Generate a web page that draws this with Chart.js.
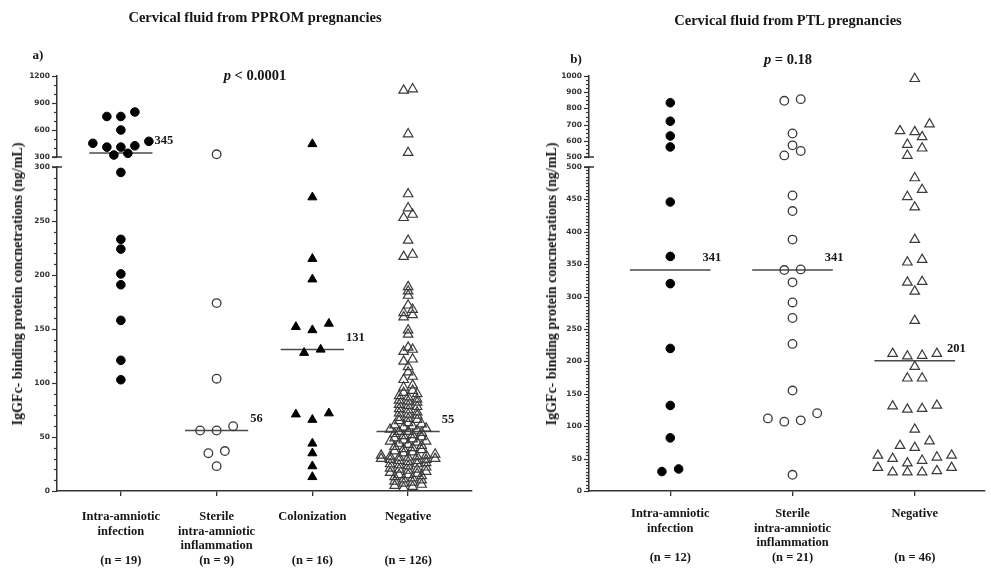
<!DOCTYPE html>
<html><head><meta charset="utf-8">
<script src="https://cdn.jsdelivr.net/npm/chart.js@4.4.1/dist/chart.umd.min.js"></script>
<style>
html,body{margin:0;padding:0;background:#fff;}
#wrap{position:relative;width:991px;height:572px;overflow:hidden;background:#fff;}
#wrap canvas{position:absolute;left:0;top:0;}
.txt{position:absolute;font-family:'Liberation Serif','Times New Roman',serif;font-weight:bold;color:#161616;white-space:nowrap;transform:translate(-50%,-50%);line-height:1;}
.ytitle{transform:translate(-50%,-50%) rotate(-90deg);}
</style></head><body>
<div id="wrap">
<canvas id="cAt" width="991" height="572"></canvas>
<canvas id="cAb" width="991" height="572"></canvas>
<canvas id="cBt" width="991" height="572"></canvas>
<canvas id="cBb" width="991" height="572"></canvas>
</div>
<script>
// ================= DATA =================
const titleA = 'Cervical fluid from PPROM pregnancies';
const titleB = 'Cervical fluid from PTL pregnancies';
const yTitle = 'IgGFc- binding protein concnetrations (ng/mL)';
const pValueA = '< 0.0001';
const pValueB = '= 0.18';

const categoriesA = [['Intra-amniotic', 'infection'], ['Sterile', 'intra-amniotic', 'inflammation'], ['Colonization'], ['Negative']];
const categoriesB = [['Intra-amniotic', 'infection'], ['Sterile', 'intra-amniotic', 'inflammation'], ['Negative']];

const mediansA = [345, 56, 131, 55];
const mediansB = [341, 341, 201];

const ticksA_top = [300, 600, 900, 1200];
const ticksA_bottom = [0, 50, 100, 150, 200, 250, 300];
const ticksB_top = [500, 600, 700, 800, 900, 1000];
const ticksB_bottom = [0, 50, 100, 150, 200, 250, 300, 350, 400, 450, 500];

// Panel a (PPROM)
const a_infection = [800, 750, 750, 600, 474, 452, 425, 410, 410, 341, 322, 295, 233, 224, 201, 191, 158, 121, 103];
const a_sterile = [330, 174, 104, 60, 56, 56, 37, 35, 23];
const a_colonization = [444, 272, 215, 196, 155, 152, 149, 131, 128, 72, 71, 66, 44, 35, 23, 13];
const a_negative = [1055, 1040, 555, 348, 275, 262, 256, 253, 232, 219, 217, 189, 185, 181, 172, 168, 165, 163, 161, 149,
  145, 133, 131, 129, 122, 120, 115, 110, 106, 103, 98, 96, 93, 91, 90, 88, 87, 85, 84, 83, 82, 80, 79, 78, 76, 75, 73,
  72, 71, 70, 68, 67, 66, 65, 63, 62, 61, 60, 59, 58, 57, 56, 55, 55, 54, 53, 52, 51, 50, 49, 48, 47, 46, 46, 45, 44, 43,
  42, 41, 40, 39, 38, 37, 36, 35, 34, 33, 33, 32, 32, 31, 31, 30, 30, 29, 29, 28, 28, 27, 26, 25, 25, 24, 23, 22, 21, 20,
  20, 19, 18, 17, 16, 15, 15, 14, 13, 12, 11, 10, 9, 8, 7, 6, 5, 4, 3];

// Panel b (PTL)
const b_infection = [835, 721, 630, 562, 446, 362, 320, 220, 132, 82, 34, 30];
const b_sterile = [857, 847, 645, 572, 537, 510, 456, 432, 388, 342, 341, 322, 291, 267, 227, 155, 120, 112, 109, 107, 25];
const b_negative = [983, 703, 661, 655, 624, 577, 554, 509, 483, 465, 454, 438, 388, 357, 353, 323, 322, 308, 263, 212,
  212, 209, 208, 192, 174, 174, 132, 131, 127, 126, 95, 77, 70, 67, 55, 55, 52, 50, 47, 43, 36, 36, 31, 29, 29, 29];

// ================= LAYOUT / STYLE =================
const W = 991, H = 572, YW = 40, XH = 78;
const LAYOUT = {
  A: { L: 57, R: 472, xMin: -0.667, xMax: 3.667, split: 300, medDx: 2, labelPad: 14,
       top: { T: 76, B: 157, min: 300, max: 1200, minor: 100 },
       bottom: { T: 167, B: 491, min: 0, max: 300, minor: 10 },
       swarm: [{gap: 5.8, span: 8.5, step: 14}, {gap: 5.8, span: 8.5, step: 16.5}, {gap: 5.8, span: 8.5, step: 16.5}, {gap: 4, span: 4, step: 9}],
       marks: ['fillCircle', 'openCircle', 'fillTri', 'openTri'] },
  B: { L: 589, R: 991, xMin: -0.665, xMax: 2.569, split: 500, medDx: -8, labelPad: 11,
       top: { T: 76, B: 157, min: 500, max: 1000, minor: 25 },
       bottom: { T: 167, B: 491, min: 0, max: 500, minor: 5 },
       swarm: [{gap: 9, span: 8.55, step: 17}, {gap: 9, span: 8.55, step: 16.7}, {gap: 9, span: 8.55, step: 15}],
       marks: ['fillCircle', 'openCircle', 'openTri'] }
};
const MARKS = {
  fillCircle: { style: 'circle', r: 4.3, fill: '#000', stroke: '#000', bw: 1 },
  openCircle: { style: 'circle', r: 4.3, fill: 'rgba(255,255,255,0)', stroke: '#3a3a3a', bw: 1.3 },
  fillTri: { style: 'triangle', r: 5.2, fill: '#000', stroke: '#000', bw: 1 },
  openTri: { style: 'triangle', r: 5.5, fill: 'rgba(255,255,255,0)', stroke: '#3a3a3a', bw: 1.2 }
};
const MED_HALF = 0.33;
const SERIF = "'Liberation Serif', 'Times New Roman', serif";

const PANELS = {
  A: { cats: categoriesA, groups: [a_infection, a_sterile, a_colonization, a_negative], medians: mediansA, ticks: { top: ticksA_top, bottom: ticksA_bottom } },
  B: { cats: categoriesB, groups: [b_infection, b_sterile, b_negative], medians: mediansB, ticks: { top: ticksB_top, bottom: ticksB_bottom } }
};

// Prism-like row layout of points (x jitter computed from values)
function swarmPoints(values, ci, P, cfg) {
  const pxPerX = (P.R - P.L) / (P.xMax - P.xMin);
  const segOf = v => v > P.split ? P.top : P.bottom;
  const py = v => { const s = segOf(v); return s.B - (v - s.min) * (s.B - s.T) / (s.max - s.min); };
  const order = values.map((v, i) => i).sort((a, b) => values[a] - values[b]);
  const rows = []; let row = null;
  order.forEach(i => {
    const v = values[i], y = py(v), s = segOf(v);
    if (row && row.seg === s && (row.last - y) <= cfg.gap && (row.first - y) <= cfg.span) { row.items.push(i); row.last = y; }
    else { row = { seg: s, first: y, last: y, items: [i] }; rows.push(row); }
  });
  const pts = [];
  rows.forEach(r => {
    const n = r.items.length;
    const slots = [];
    for (let k = 0; k < n; k++) slots.push((k - (n - 1) / 2) * cfg.step);
    slots.sort((a, b) => Math.abs(a) - Math.abs(b) || a - b);
    r.items.forEach((i, k) => pts.push({ x: ci + slots[k] / pxPerX, y: values[i] }));
  });
  return pts;
}

const axisDeco = {
  id: 'axisDeco',
  afterDraw(chart, args, opts) {
    const y = chart.scales.y, ctx = chart.ctx, x0 = chart.chartArea.left;
    ctx.save();
    ctx.strokeStyle = '#333';
    ctx.lineWidth = 1.2;
    y.ticks.forEach(t => {
      const p = Math.round(y.getPixelForValue(t.value)) + 0.5;
      const len = opts.labels.includes(t.value) ? 5 : 3;
      ctx.beginPath(); ctx.moveTo(x0 - len, p); ctx.lineTo(x0, p); ctx.stroke();
    });
    const cv = opts.cap === 'min' ? y.min : y.max;
    const p = y.getPixelForValue(cv);
    ctx.lineWidth = 1.5;
    ctx.beginPath(); ctx.moveTo(x0 - 5, p); ctx.lineTo(x0 + 5, p); ctx.stroke();
    ctx.restore();
  }
};

const medianLabels = {
  id: 'medianLabels',
  afterDatasetsDraw(chart, args, opts) {
    const xs = chart.scales.x, ys = chart.scales.y, ctx = chart.ctx;
    ctx.save();
    ctx.font = "bold 12.5px " + SERIF;
    ctx.fillStyle = '#161616';
    ctx.textBaseline = 'middle';
    ctx.textAlign = 'left';
    (opts.items || []).forEach(it => {
      ctx.fillText(String(it.v), xs.getPixelForValue(it.i + MED_HALF) + opts.dx, ys.getPixelForValue(it.v) - 12);
    });
    ctx.restore();
  }
};

function buildChart(id, key, segKey) {
  const P = LAYOUT[key], D = PANELS[key], S = P[segKey];
  const isBottom = segKey === 'bottom';
  const xh = isBottom ? XH : 0;
  const tickLabels = D.ticks[segKey];
  const datasets = [];
  D.groups.forEach((vals, gi) => {
    const m = MARKS[P.marks[gi]];
    const pts = swarmPoints(vals, gi, P, P.swarm[gi]).filter(p => isBottom ? p.y <= P.split : p.y > P.split);
    datasets.push({
      type: 'scatter', data: pts, showLine: false, clip: false,
      pointStyle: m.style, pointRadius: m.r, pointHoverRadius: m.r,
      pointBackgroundColor: m.fill, pointBorderColor: m.stroke, pointBorderWidth: m.bw
    });
  });
  const medItems = [];
  D.medians.forEach((mv, i) => {
    if (mv >= S.min && mv <= S.max) {
      medItems.push({ i: i, v: mv });
      datasets.push({
        type: 'scatter', showLine: true, clip: false,
        data: [{ x: i - MED_HALF, y: mv }, { x: i + MED_HALF, y: mv }],
        borderColor: '#4a4a4a', borderWidth: 1.5, pointRadius: 0, pointHoverRadius: 0
      });
    }
  });
  const yTicks = [];
  for (let v = S.min; v <= S.max + 1e-9; v += S.minor) yTicks.push({ value: v });
  return new Chart(document.getElementById(id), {
    type: 'scatter',
    data: { datasets },
    plugins: [axisDeco, medianLabels],
    options: {
      responsive: false, animation: false, events: [],
      layout: { padding: { left: P.L - YW, right: W - P.R, top: S.T, bottom: H - S.B - xh } },
      plugins: {
        legend: { display: false }, tooltip: { enabled: false },
        axisDeco: { labels: tickLabels, cap: isBottom ? 'max' : 'min' },
        medianLabels: { items: medItems, dx: P.medDx }
      },
      scales: {
        x: {
          type: 'linear', min: P.xMin, max: P.xMax, display: isBottom,
          afterBuildTicks: s => { s.ticks = D.cats.map((c, i) => ({ value: i })); },
          afterFit: s => { s.height = xh; },
          grid: { display: true, drawOnChartArea: false, drawTicks: true, tickLength: 5, color: '#333', lineWidth: 1.3 },
          border: { display: true, color: '#333', width: 1.5 },
          ticks: {
            autoSkip: false, maxRotation: 0, minRotation: 0, padding: P.labelPad, color: '#161616',
            font: { family: SERIF, size: 12.5, weight: 'bold', lineHeight: 1.16 },
            callback: (v) => {
              const i = Math.round(v);
              const lines = D.cats[i].slice();
              while (lines.length < 3) lines.push('');
              lines.push('(n = ' + D.groups[i].length + ')');
              return lines;
            }
          }
        },
        y: {
          type: 'linear', min: S.min, max: S.max,
          afterBuildTicks: s => { s.ticks = yTicks.map(t => ({ value: t.value })); },
          afterFit: s => { s.width = YW; },
          grid: { display: false, drawTicks: false },
          border: { display: true, color: '#333', width: 1.5 },
          ticks: {
            autoSkip: false, padding: 7, color: '#333',
            font: { family: "'DejaVu Sans', sans-serif", size: 7.5, weight: 'bold' },
            callback: (v) => tickLabels.includes(v) ? String(v) : ''
          }
        }
      }
    }
  });
}

buildChart('cAt', 'A', 'top');
buildChart('cAb', 'A', 'bottom');
buildChart('cBt', 'B', 'top');
buildChart('cBb', 'B', 'bottom');

// ================= TEXT =================
const wrap = document.getElementById('wrap');
function addText(html, x, y, size, cls) {
  const d = document.createElement('div');
  d.className = 'txt' + (cls ? ' ' + cls : '');
  d.style.left = x + 'px'; d.style.top = y + 'px'; d.style.fontSize = size + 'px';
  d.innerHTML = html;
  wrap.appendChild(d);
}
addText(titleA, 255, 17, 14.5);
addText(titleB, 788, 20, 14.5);
addText('a)', 38, 54, 13);
addText('b)', 576, 58, 13);
addText('<i>p</i> ' + pValueA.replace('<', '&lt;'), 255, 75, 14.5);
addText('<i>p</i> ' + pValueB, 788, 59, 14.5);
addText(yTitle, 18, 284, 14, 'ytitle');
addText(yTitle, 552, 284, 14, 'ytitle');
</script>
</body></html>
